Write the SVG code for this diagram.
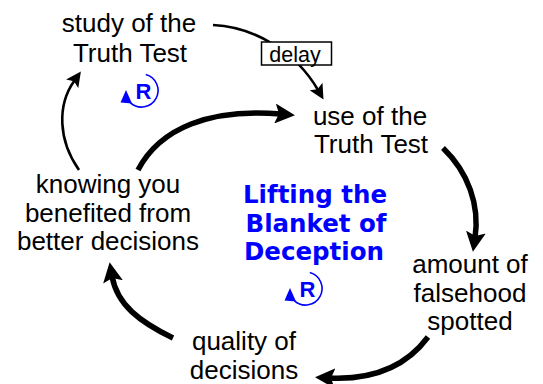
<svg xmlns="http://www.w3.org/2000/svg" width="543" height="384" viewBox="0 0 543 384">
<style>
.lbl{font-family:"Liberation Sans",Arial,sans-serif;font-size:26px;fill:#000;text-anchor:middle}
.title{font-family:"DejaVu Sans",Verdana,sans-serif;font-weight:bold;font-size:24.5px;fill:#0000ff;text-anchor:middle}
.thin{fill:none;stroke:#000;stroke-width:2.6}
.thick{fill:none;stroke:#000;stroke-width:5.5}
.rarc{fill:none;stroke:#0000ff;stroke-width:1.6}
.rtxt{font-family:"Liberation Sans",Arial,sans-serif;font-weight:bold;font-size:22px;fill:#0000ff;text-anchor:middle}
</style>
<defs>
<marker id="ah-thick" markerUnits="userSpaceOnUse" markerWidth="20" markerHeight="20" refX="6" refY="10" orient="auto">
<path d="M0,0 L20,10 L0,20 L4,10 z" fill="#000"/>
</marker>
<marker id="ah-thin" markerUnits="userSpaceOnUse" markerWidth="15" markerHeight="15" refX="4" refY="7.5" orient="auto">
<path d="M0,0 L15,7.5 L0,15 L3,7.5 z" fill="#000"/>
</marker>
<g id="rsym">
<path class="rarc" d="M4.3,-15.9 A16.5,16.5 0 1 1 -11,12.3"/>
<path d="M-15.5,-0.5 L-21,12 L-9.5,13 z" fill="#0000ff"/>
<text class="rtxt" x="2" y="8.5">R</text>
</g>
</defs>
<g id="connectors">
<path class="thin" d="M213,25 C255,27 296,52 318,90" marker-end="url(#ah-thin)"/>
<path class="thick" d="M443,148 C468,172 480,205 475,238" marker-end="url(#ah-thick)"/>
<path class="thick" d="M428,337 C405,368 370,380 329,378" marker-end="url(#ah-thick)"/>
<path class="thick" d="M173,338 C140,322 117,305 112,276" marker-end="url(#ah-thick)"/>
<path class="thin" d="M79,170 C58,140 57,105 74.5,80.5" marker-end="url(#ah-thin)"/>
<path class="thick" d="M138,170 C160,128 210,108 281,114" marker-end="url(#ah-thick)"/>
</g>
<g id="delay">
<rect x="261.5" y="42" width="70" height="23" fill="#fff" stroke="#000" stroke-width="1.5"/>
<text x="295" y="61.5" style="font-family:'Liberation Sans',Arial,sans-serif;font-size:21.5px;text-anchor:middle">delay</text>
</g>
<g id="study">
<text class="lbl" x="129" y="32">study of the</text>
<text class="lbl" x="130" y="62">Truth Test</text>
</g>
<g id="use">
<text class="lbl" x="370" y="125">use of the</text>
<text class="lbl" x="371" y="153">Truth Test</text>
</g>
<g id="amount">
<text class="lbl" x="470" y="273">amount of</text>
<text class="lbl" x="470" y="302">falsehood</text>
<text class="lbl" x="470" y="330">spotted</text>
</g>
<g id="quality">
<text class="lbl" x="244" y="350">quality of</text>
<text class="lbl" x="244" y="379">decisions</text>
</g>
<g id="knowing">
<text class="lbl" x="108" y="193">knowing you</text>
<text class="lbl" x="108" y="222">benefited from</text>
<text class="lbl" x="108" y="250">better decisions</text>
</g>
<g id="loop-title">
<text class="title" x="315" y="203">Lifting the</text>
<text class="title" x="316" y="232">Blanket of</text>
<text class="title" x="314" y="260">Deception</text>
</g>
<g id="r1"><use href="#rsym" transform="translate(141.5,90.5)"/></g>
<g id="r2"><use href="#rsym" transform="translate(305.5,288.5)"/></g>
</svg>
